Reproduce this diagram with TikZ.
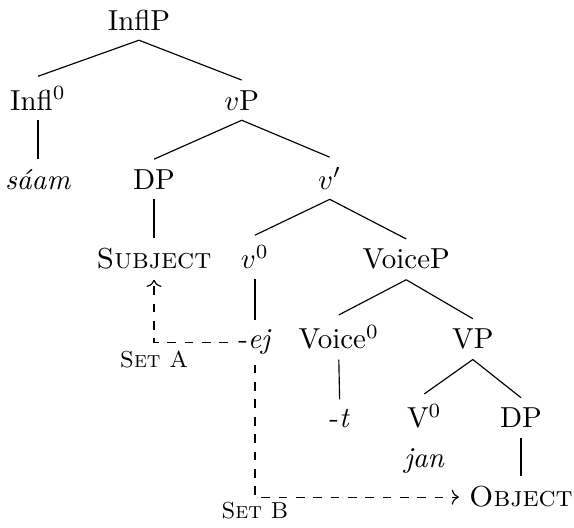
\documentclass[tikz,border=0pt]{standalone}
\usetikzlibrary{arrows.meta}

\begin{document}
\begin{tikzpicture}[
  cat/.style={anchor=base, inner sep=0.3333em},
  branch/.style={line width=0.4pt},
  agree/.style={dashed, -{To}, line width=0.4pt},
  lbl/.style={anchor=base, font=\footnotesize\scshape},
]
\useasboundingbox (0,0) rectangle (6.98,-6.41);

%% ---- level 0-1 ----
\node[cat] (inflp) at (1.69,-0.365) {InflP};
\node[cat] (infl0) at (0.462,-1.338) {Infl$^0$};
\node[cat] (vp)    at (2.94,-1.338) {$v$P};

%% ---- level 2 ----
\node[cat] (saam)  at (0.462,-2.30) {\textit{sáam}};
\node[cat] (dps)   at (1.873,-2.30) {DP};
\node[cat] (vbar)  at (4.01,-2.30) {$v'$};

%% ---- level 3 ----
\node[cat] (subj)   at (1.873,-3.27) {\textsc{Subject}};
\node[cat] (v0)     at (3.10,-3.27) {$v^0$};
\node[cat] (voicep) at (4.94,-3.27) {VoiceP};

%% ---- level 4 ----
\node[cat] (ej)     at (3.10,-4.24) {-\textit{ej}};
\node[cat] (voice0) at (4.12,-4.24) {Voice$^0$};
\node[cat] (vP)     at (5.75,-4.24) {VP};

%% ---- level 5 ----
\node[cat] (t)   at (4.13,-5.20) {-\textit{t}};
\node[cat] (V0)  at (5.16,-5.20) {V$^0$};
\node[cat] (dpo) at (6.335,-5.20) {DP};
\node[cat] (jan) at (5.16,-5.69) {\textit{jan}};
\node[cat] (obj) at (6.335,-6.165) {\textsc{Object}};

%% ---- branches ----
\draw[branch] (inflp.south) -- (infl0.north);
\draw[branch] (inflp.south) -- (vp.north);
\draw[branch] (infl0.south) -- (saam.north);
\draw[branch] (vp.south) -- (dps.north);
\draw[branch] (vp.south) -- (vbar.north);
\draw[branch] (dps.south) -- (subj.north);
\draw[branch] (vbar.south) -- (v0.north);
\draw[branch] (vbar.south) -- (voicep.north);
\draw[branch] (v0.south) -- (ej.north);
\draw[branch] (voicep.south) -- (voice0.north);
\draw[branch] (voicep.south) -- (vP.north);
\draw[branch] (voice0.south) -- (t.north);
\draw[branch] (vP.south) -- (V0.north);
\draw[branch] (vP.south) -- (dpo.north);
\draw[branch] (dpo.south) -- (obj.north);

%% ---- agreement paths ----
\draw[agree] (ej.west) -| (subj.south);
\draw[agree] (ej.south) |- (obj.west);
\node[lbl] (seta) at (1.873,-4.463) {Set A};
\node[lbl] (setb) at (3.10,-6.30) {Set B};

\end{tikzpicture}
\end{document}
